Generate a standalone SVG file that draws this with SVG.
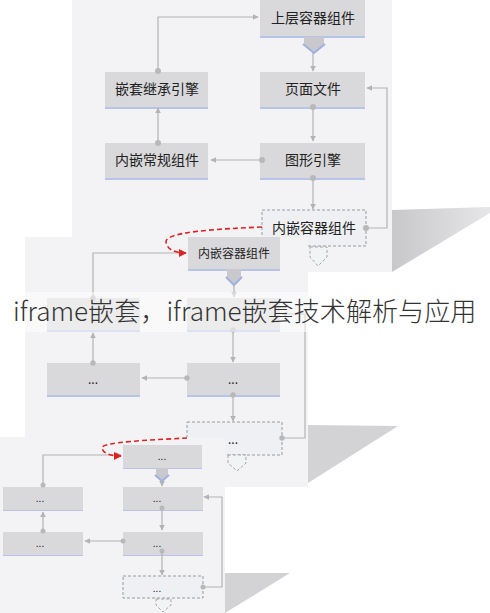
<svg xmlns="http://www.w3.org/2000/svg" width="490" height="613" viewBox="0 0 490 613">
<style>
.bg{fill:#fff}
.panel{fill:#f3f3f5}
.wedge{fill:#d3d3d5}
.nb{fill:#a9b7e6;opacity:.8}
.nf{fill:#d9d9db}
.dash{fill:#eef0f3;stroke:#9a9a9a;stroke-width:1;stroke-dasharray:3 2}
.t{font-family:"Noto Sans CJK SC","Noto Sans",sans-serif;fill:#222;text-anchor:middle}
.t1{font-size:14px}
.t2{font-size:12px}
.t3{font-size:10px}
.c{fill:none;stroke:#b3b3b3;stroke-width:1.2}
.ce{marker-end:url(#ah)}
.dot{fill:#b8b8b8}
.chev{fill:#c9c9cd}
.chv{fill:none;stroke:#9fb0e0;stroke-width:2}
.cho{fill:#f2f3f5;stroke:#a5a5a5;stroke-width:1;stroke-dasharray:3 2}
.red{fill:none;stroke:#d22;stroke-width:1.6;stroke-dasharray:5 3;marker-end:url(#rh)}
.big{font-family:"Noto Sans CJK SC","Noto Sans",sans-serif;font-size:26.1px;font-weight:300;fill:#333}
</style>
<defs>
<marker id="ah" viewBox="0 0 10 10" refX="9" refY="5" markerWidth="6" markerHeight="6" markerUnits="userSpaceOnUse" orient="auto"><path d="M0,0 L10,5 L0,10 z" fill="#b3b3b3"/></marker>
<marker id="rh" viewBox="0 0 10 10" refX="9" refY="5" markerWidth="8" markerHeight="8" markerUnits="userSpaceOnUse" orient="auto"><path d="M0,0 L10,5 L0,10 z" fill="#d22"/></marker>
<linearGradient id="wg" x1="0" y1="0" x2="1" y2="0"><stop offset="0" stop-color="#c8c8ca"/><stop offset="1" stop-color="#e6e6e8"/></linearGradient>
</defs>
<rect class="bg" x="0" y="0" width="490" height="613"/>

<g id="panel1">
<rect class="panel" x="72" y="0" width="320" height="272"/>
<polygon fill="url(#wg)" points="392,210 490,207 490,213 392,272"/>
</g>

<g id="p1-nodes">
<g id="p1-top"><rect class="nb" x="260" y="33" width="105" height="5"/><rect class="nf" x="260" y="0" width="105" height="36"/><text class="t t1" x="313" y="23">上层容器组件</text></g>
<g id="p1-inherit"><rect class="nb" x="105" y="104" width="103" height="5"/><rect class="nf" x="105" y="72" width="103" height="35"/><text class="t t1" x="157" y="94">嵌套继承引擎</text></g>
<g id="p1-page"><rect class="nb" x="260" y="104" width="105" height="5"/><rect class="nf" x="260" y="72" width="105" height="35"/><text class="t t1" x="313" y="94">页面文件</text></g>
<g id="p1-regular"><rect class="nb" x="105" y="175" width="103" height="5"/><rect class="nf" x="105" y="143" width="103" height="35"/><text class="t t1" x="157" y="165">内嵌常规组件</text></g>
<g id="p1-graphic"><rect class="nb" x="260" y="175" width="105" height="5"/><rect class="nf" x="260" y="143" width="105" height="35"/><text class="t t1" x="313" y="165">图形引擎</text></g>
<g id="p1-container"><rect class="dash" x="262" y="210" width="104" height="36"/><text class="t t1" x="314" y="233">内嵌容器组件</text></g>
</g>

<g id="p1-connectors">
<path class="c ce" d="M158,71 V17 H258"/><circle class="dot" cx="158" cy="71" r="3"/>
<polygon class="chev" points="304,37 324,37 324,44 314,53 304,44"/><polyline class="chv" points="303,44 314,53 325,44"/>
<path class="c ce" d="M313,53 V71"/>
<path class="c ce" d="M313,107 V141"/><circle class="dot" cx="313" cy="107" r="3"/>
<path class="c ce" d="M262,160 H211"/><circle class="dot" cx="262" cy="160" r="3"/>
<path class="c ce" d="M158,143 V108"/><circle class="dot" cx="158" cy="143" r="3"/>
<path class="c ce" d="M313,178 V209"/><circle class="dot" cx="313" cy="178" r="3"/>
<path class="c ce" d="M366,228 H387 V88 H367"/><circle class="dot" cx="366" cy="228" r="3"/>
<polygon class="cho" points="310,247 327,247 327,257 318,266 310,257"/>
</g>

<g id="panel2">
<rect class="panel" x="25" y="237" width="283" height="250"/>
<polygon class="wedge" points="308,425 398,426 308,483"/>
</g>

<g id="p2-nodes">
<g id="p2-top"><rect class="nb" x="188" y="266" width="92" height="5"/><rect class="nf" x="188" y="237" width="92" height="32"/><text class="t t2" x="234" y="258">内嵌容器组件</text></g>
<g id="p2-r2l"><rect class="nb" x="47" y="327" width="93" height="5"/><rect class="nf" x="47" y="298" width="93" height="32"/></g>
<g id="p2-r2r"><rect class="nb" x="187" y="327" width="93" height="5"/><rect class="nf" x="187" y="298" width="93" height="32"/></g>
<g id="p2-r3l"><rect class="nb" x="47" y="392" width="93" height="5"/><rect class="nf" x="47" y="363" width="93" height="32"/><text class="t t2" x="93" y="384">...</text></g>
<g id="p2-r3r"><rect class="nb" x="187" y="392" width="93" height="5"/><rect class="nf" x="187" y="363" width="93" height="32"/><text class="t t2" x="233" y="384">...</text></g>
<g id="p2-container"><rect class="dash" x="187" y="422" width="95" height="33"/><text class="t t2" x="233" y="444">...</text></g>
</g>

<g id="p2-connectors">
<path class="c ce" d="M93,298 V253 H186"/><circle class="dot" cx="93" cy="298" r="2.7"/>
<polygon class="chev" points="227,269 241,269 241,277 234,285 227,277"/><polyline class="chv" points="226,277 234,285 242,277"/>
<path class="c ce" d="M234,285 V297"/>
<path class="c ce" d="M93,363 V333"/><circle class="dot" cx="93" cy="363" r="2.7"/>
<path class="c ce" d="M233,330 V362"/><circle class="dot" cx="233" cy="330" r="2.7"/>
<path class="c ce" d="M187,378 H142"/><circle class="dot" cx="187" cy="378" r="2.7"/>
<path class="c ce" d="M233,395 V421"/><circle class="dot" cx="233" cy="395" r="2.7"/>
<path class="c ce" d="M282,438 H305 V314 H282"/><circle class="dot" cx="282" cy="438" r="2.7"/>
<polygon class="cho" points="228,455 246,455 246,463 237,471 228,463"/>
</g>

<g id="panel3">
<rect class="panel" x="0" y="437" width="225" height="176"/>
<polygon class="wedge" points="225,573 290,573 225,613"/>
</g>

<g id="p3-nodes">
<g id="p3-top"><rect class="nb" x="123" y="465" width="79" height="4"/><rect class="nf" x="123" y="445" width="79" height="23"/><text class="t t3" x="162" y="460">...</text></g>
<g id="p3-r2l"><rect class="nb" x="3" y="507" width="80" height="4"/><rect class="nf" x="3" y="487" width="80" height="23"/><text class="t t3" x="40" y="502">...</text></g>
<g id="p3-r2r"><rect class="nb" x="123" y="507" width="80" height="4"/><rect class="nf" x="123" y="487" width="80" height="23"/><text class="t t3" x="157" y="502">...</text></g>
<g id="p3-r3l"><rect class="nb" x="3" y="552" width="80" height="4"/><rect class="nf" x="3" y="532" width="80" height="23"/><text class="t t3" x="40" y="547">...</text></g>
<g id="p3-r3r"><rect class="nb" x="123" y="552" width="80" height="4"/><rect class="nf" x="123" y="532" width="80" height="23"/><text class="t t3" x="157" y="547">...</text></g>
<g id="p3-container"><rect class="dash" x="123" y="576" width="80" height="22"/><text class="t t3" x="157" y="592">...</text></g>
</g>

<g id="p3-connectors">
<path class="c ce" d="M43,485 V455 H121"/><circle class="dot" cx="43" cy="485" r="2.5"/>
<polygon class="chev" points="156,468 168,468 168,475 162,481 156,475"/><polyline class="chv" points="155,475 162,481 169,475"/>
<path class="c ce" d="M162,481 V486"/>
<path class="c ce" d="M43,531 V512"/><circle class="dot" cx="43" cy="531" r="2.5"/>
<path class="c ce" d="M162,508 V530"/><circle class="dot" cx="162" cy="508" r="2.5"/>
<path class="c ce" d="M123,541 H85"/><circle class="dot" cx="123" cy="541" r="2.5"/>
<path class="c ce" d="M162,551 V575"/><circle class="dot" cx="162" cy="551" r="2.5"/>
<path class="c ce" d="M203,587 H222 V497 H204"/><circle class="dot" cx="203" cy="587" r="2.5"/>
<polygon class="cho" points="156,599 171,599 171,605 163,612 156,605"/>
</g>

<g id="links">
<path class="red" d="M262,227 C215,229 165,232 166,242 C167,250 176,253 186,253"/>
<path class="red" d="M187,438 C150,440 101,442 102,448 C103,454 112,456 121,456"/>
</g>

<rect x="0" y="292" width="490" height="40" fill="#fff" opacity="0.5"/>
<text class="big" x="13" y="321">iframe嵌套，iframe嵌套技术解析与应用</text>
</svg>
